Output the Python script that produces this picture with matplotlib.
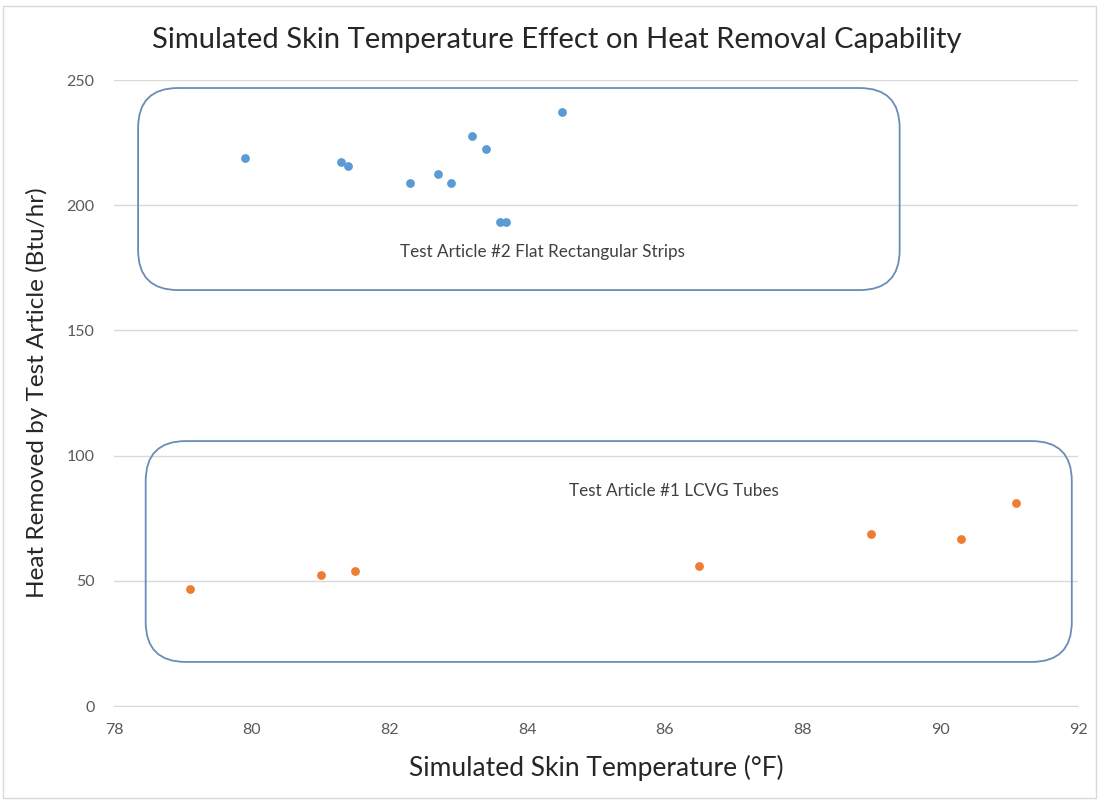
import numpy as np
import matplotlib.pyplot as plt
from matplotlib.patches import FancyBboxPatch, Rectangle

# Test Article #2 Flat Rectangular Strips
strip_temp = [79.9, 81.3, 81.4, 82.3, 82.7, 82.9, 83.2, 83.4, 83.6, 83.7, 84.5]
strip_heat = [218.8, 217.3, 215.6, 209.0, 212.5, 209.0, 227.6, 222.4, 193.4, 193.4, 237.2]

# Test Article #1 LCVG Tubes
tube_temp = [79.1, 81.0, 81.5, 86.5, 89.0, 90.3, 91.1]
tube_heat = [46.7, 52.2, 54.0, 56.0, 68.8, 66.8, 81.0]

x_ticks = list(range(78, 93, 2))
y_ticks = list(range(0, 251, 50))

plt.rcParams['font.family'] = ['Lato', 'DejaVu Sans']

W, H = 1101, 801
fig = plt.figure(figsize=(W / 100, H / 100), dpi=100)
ax = fig.add_axes([114 / W, 1 - 706 / H, (1078 - 114) / W, (706 - 80) / H])

ax.scatter(strip_temp, strip_heat, s=40, color='#5b9bd5', zorder=3, linewidths=0)
ax.scatter(tube_temp, tube_heat, s=40, color='#ed7d31', zorder=3, linewidths=0)

ax.set_xlim(78, 92)
ax.set_ylim(0, 250)
ax.set_xticks(x_ticks)
ax.set_yticks(y_ticks)
ax.grid(axis='y', color='#d9d9d9', linewidth=1)
ax.set_axisbelow(True)
for side in ['top', 'right', 'left']:
    ax.spines[side].set_visible(False)
ax.spines['bottom'].set_color('#d9d9d9')
ax.tick_params(length=0, labelsize=11.5, colors='#595959', pad=12)
ax.tick_params(axis='y', pad=14)

ax.set_xlabel('Simulated Skin Temperature (°F)', fontsize=19, color='#262626', labelpad=13)
ax.set_ylabel('Heat Removed by Test Article (Btu/hr)', fontsize=17.5, color='#262626', labelpad=13)
fig.text(557 / W, 1 - 40 / H, 'Simulated Skin Temperature Effect on Heat Removal Capability',
         ha='center', va='center', fontsize=21, color='#262626')

# rounded callout boxes, drawn in pixel space so the corners stay round
def callout(x0, x1, y0, y1, label, lx, ly):
    (px0, py0) = ax.transData.transform((x0, y0))
    (px1, py1) = ax.transData.transform((x1, y1))
    box = FancyBboxPatch((px0, py0), px1 - px0, py1 - py0,
                         boxstyle='round,pad=0,rounding_size=40',
                         transform=None, fill=False, edgecolor='#6a8db5', linewidth=1.3,
                         zorder=4)
    fig.patches.append(box)
    ax.text(lx, ly, label, ha='center', va='center', fontsize=12.3, color='#404040')

callout(78.35, 89.41, 166.1, 246.8, 'Test Article #2 Flat Rectangular Strips', 84.22, 181.5)
callout(78.46, 91.91, 17.6, 105.8, 'Test Article #1 LCVG Tubes', 86.13, 86.0)

fig.patches.append(Rectangle((3 / W, 3 / H), 1 - 8 / W, 1 - 9 / H, transform=fig.transFigure,
                             fill=False, edgecolor='#d9d9d9', linewidth=1))

fig.savefig('out.png', dpi=100)
